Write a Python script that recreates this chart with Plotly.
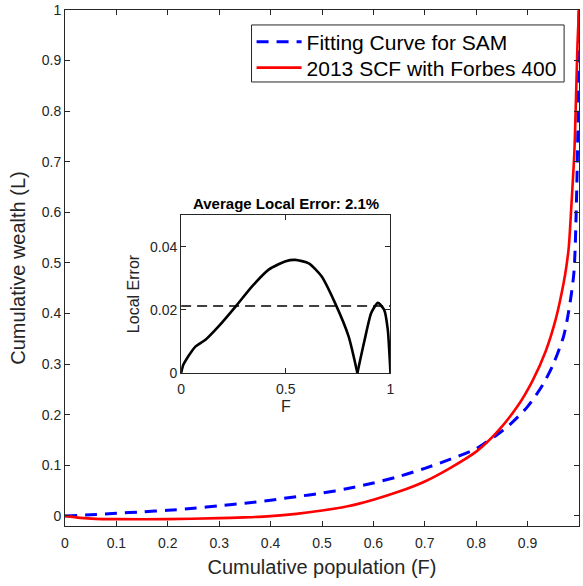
import plotly.graph_objects as go

# ---- data ----
F_fit = [0, 0.05, 0.1, 0.15, 0.2, 0.25, 0.3, 0.35, 0.4, 0.45, 0.5, 0.55, 0.6, 0.65,
         0.7, 0.75, 0.8, 0.82, 0.84, 0.865, 0.9, 0.93, 0.95, 0.97, 0.98, 0.99, 0.995, 0.998, 1.0]
L_fit = [0, 0.002, 0.005, 0.008, 0.011, 0.015, 0.020, 0.025, 0.031, 0.038, 0.045, 0.054,
         0.065, 0.078, 0.094, 0.112, 0.133, 0.146, 0.16, 0.18, 0.216, 0.26, 0.30, 0.355, 0.405,
         0.48, 0.62, 0.78, 1.0]

F_scf = [0, 0.03, 0.06, 0.1, 0.2, 0.3, 0.35, 0.4, 0.45, 0.5, 0.55, 0.6, 0.65, 0.7, 0.75,
         0.8, 0.84, 0.88, 0.91, 0.935, 0.955, 0.97, 0.975, 0.98, 0.985, 0.991, 0.994, 0.997, 1.0]
L_scf = [0, -0.004, -0.006, -0.0065, -0.0065, -0.0045, -0.003, -0.0005, 0.004, 0.0105,
         0.019, 0.032, 0.048, 0.068, 0.095, 0.127, 0.165, 0.216, 0.268, 0.325, 0.39, 0.46,
         0.49, 0.53, 0.61, 0.72, 0.82, 0.93, 1.0]

F_err = [0, 0.01, 0.024, 0.05, 0.071, 0.118, 0.18, 0.26, 0.34, 0.42, 0.50, 0.545, 0.61,
         0.67, 0.735, 0.80, 0.842, None, 0.842, 0.877, 0.908, 0.94, 0.97, 0.987, 1.0]
E_err = [0, 0.0025, 0.0042, 0.0068, 0.0085, 0.0106, 0.0148, 0.021, 0.0275, 0.0328, 0.0354,
         0.0358, 0.0347, 0.0307, 0.0222, 0.0116, 0, None, 0, 0.0106, 0.019, 0.0222, 0.020,
         0.0138, 0]
avg_err = 0.0212

x_ticks = [0, 0.1, 0.2, 0.3, 0.4, 0.5, 0.6, 0.7, 0.8, 0.9, 1]
x_ticklabels = ["0", "0.1", "0.2", "0.3", "0.4", "0.5", "0.6", "0.7", "0.8", "0.9", "1"]
y_ticks = [0, 0.1, 0.2, 0.3, 0.4, 0.5, 0.6, 0.7, 0.8, 0.9, 1]
y_ticklabels = ["0", "0.1", "0.2", "0.3", "0.4", "0.5", "0.6", "0.7", "0.8", "0.9", "1"]
inset_xticks = [0, 0.5, 1]
inset_xticklabels = ["0", "0.5", "1"]
inset_yticks = [0, 0.02, 0.04]
inset_yticklabels = ["0", "0.02", "0.04"]

FONT = "Liberation Sans, Arial, sans-serif"
AX = "#262626"

fig = go.Figure()
fig.add_trace(go.Scatter(x=F_fit, y=L_fit, mode="lines", name="Fitting Curve for SAM",
                         legend="legend",
                         line=dict(color="#0000ff", width=3, dash="12px,8px", shape="spline",
                                   smoothing=0.8)))
fig.add_trace(go.Scatter(x=F_scf, y=L_scf, mode="lines", name="2013 SCF with Forbes 400",
                         legend="legend2",
                         line=dict(color="#ff0000", width=2.6, shape="spline", smoothing=0.8)))
fig.add_trace(go.Scatter(x=F_err, y=E_err, mode="lines", showlegend=False,
                         xaxis="x2", yaxis="y2", connectgaps=False,
                         line=dict(color="black", width=2.6, shape="spline", smoothing=0.6)))
fig.add_trace(go.Scatter(x=[0, 1], y=[avg_err, avg_err], mode="lines", showlegend=False,
                         xaxis="x2", yaxis="y2",
                         line=dict(color="black", width=1.5, dash="10px,6px")))

common = dict(showline=True, linecolor=AX, linewidth=1, mirror="ticks", ticks="inside",
              ticklen=5, tickcolor=AX, showgrid=False, zeroline=False,
              tickfont=dict(family=FONT, size=14, color=AX))

leg_common = dict(x=0.363, xanchor="left", yanchor="middle", bgcolor="rgba(0,0,0,0)",
                  borderwidth=0, font=dict(family=FONT, size=21, color="black"),
                  itemwidth=45)

fig.update_layout(
    width=583, height=586,
    margin=dict(l=65, r=0, t=10, b=60),
    paper_bgcolor="white", plot_bgcolor="white",
    font=dict(family=FONT, color=AX),
    showlegend=True,
    legend=dict(y=0.938, **leg_common),
    legend2=dict(y=0.8876, **leg_common),
    shapes=[dict(type="rect", xref="paper", yref="paper", x0=0.3629, x1=0.971,
                 y0=0.8605, y1=0.971, line=dict(color=AX, width=1), fillcolor="white",
                 layer="above")],
    xaxis=dict(range=[0, 1], tickvals=x_ticks, ticktext=x_ticklabels, ticklabelstandoff=4,
               title=dict(text="Cumulative population (F)", standoff=10,
                          font=dict(family=FONT, size=20, color=AX)), **common),
    yaxis=dict(range=[-0.02, 1], tickvals=y_ticks, ticktext=y_ticklabels,
               title=dict(text="Cumulative wealth (L)", standoff=10,
                          font=dict(family=FONT, size=20, color=AX)), **common),
    xaxis2=dict(domain=[0.2259, 0.6332], range=[0, 1], anchor="y2",
                tickvals=inset_xticks, ticktext=inset_xticklabels, ticklabelstandoff=3,
                title=dict(text="F", standoff=4, font=dict(family=FONT, size=16, color=AX)),
                **common),
    yaxis2=dict(domain=[0.2965, 0.6027], range=[0, 0.05], anchor="x2",
                tickvals=inset_yticks, ticktext=inset_yticklabels,
                title=dict(text="Local Error", standoff=6,
                           font=dict(family=FONT, size=16, color=AX)), **common),
    annotations=[dict(text="<b>Average Local Error: 2.1%</b>", xref="x2 domain",
                      yref="y2 domain", x=0.5, y=1.0, xanchor="center", yanchor="bottom",
                      yshift=1, showarrow=False,
                      font=dict(family=FONT, size=15, color="black"))],
)

# place the figure exactly at the window's top-left corner, page exactly window-sized
page_css = (
    "var h=document.documentElement, b=document.body;"
    "h.style.margin='0'; h.style.padding='0'; h.style.overflow='hidden';"
    "h.style.width='583px'; h.style.height='586px';"
    "b.style.margin='0'; b.style.padding='0'; b.style.overflow='hidden';"
    "b.style.width='583px'; b.style.height='586px';"
)
fig.write_html("out.html", config={"displayModeBar": False}, post_script=page_css)
